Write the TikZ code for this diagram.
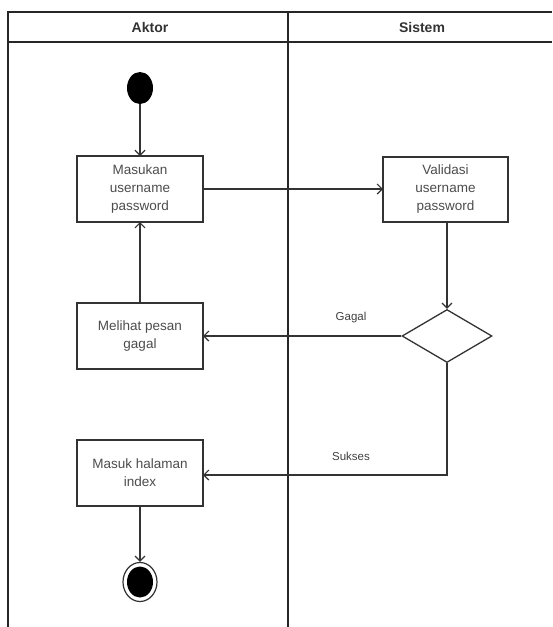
\documentclass[tikz,border=0pt]{standalone}
\usepackage{fontspec}
\setmainfont{Liberation Sans}
\usetikzlibrary{arrows.meta,calc,positioning,shapes}
\newdimen\hdim
\newdimen\wdim
\hdim=66pt
\wdim=126pt
\tikzstyle{activity}=[
  draw=black!80,
  font={\fontsize{13.5}{18}\selectfont},
  text=black!70,
  align=center,
  inner sep=0pt,
  minimum height=\hdim,
  minimum width=\wdim,
  outer sep=0pt,
  rectangle,
  line width=1.3pt,
]
\tikzstyle{decision}=[
  draw=black!80,
  diamond,
  aspect=1.7,
  inner sep=0pt,
  minimum width=90pt,
  minimum height=53pt,
  line width=1.3pt,
]
\tikzstyle{arrow}=[
  draw=black!80,
  line width=1.2pt,
]
\tikzstyle{arrowlabel}=[
  text=black!75,
  font={\fontsize{11.5}{13}\selectfont},
]
\tikzstyle{lane}=[
  draw=black!85,
  line width=1.5pt,
]
\tikzstyle{lanetitle}=[
  text=black!80,
  font={\fontsize{14}{16}\selectfont\bfseries},
]
\tikzset{
  >={Straight Barb[length=5pt,width=10pt]},
}
\begin{document}
\begin{tikzpicture}[x=1pt,y=-1pt]
      \useasboundingbox (0,0) rectangle (552,627);
      %% swimlanes
      \draw [lane] (8,627) -- (8,12) -- (552,12);
      \draw [lane] (8,42) -- (552,42);
      \draw [lane, line width=1.8pt] (288,12) -- (288,627);
      \node (aktor) [lanetitle] at (150,27) {Aktor};
      \node (sistem) [lanetitle] at (422,27) {Sistem};
      %%
      \node (start) [ellipse, fill=black, minimum width=26pt, minimum height=32pt, inner sep=0pt] at (140,88) {};
      \node (masukan) [activity] at (140,189) {Masukan\\username\\password};
      \node (validasi) [activity, minimum width=125pt, minimum height=65pt] at (445.5,189.5) {Validasi\\username\\password};
      \node (cek) [decision] at (447,336) {};
      \node (melihat) [activity] at (140,336) {Melihat pesan\\gagal};
      \node (masuk) [activity] at (140,473) {Masuk halaman\\index};
      \node (end) [ellipse, draw=black!80, line width=1.2pt, minimum width=34pt, minimum height=39pt, inner sep=0pt] at (140,582) {};
      \node (endfill) [ellipse, fill=black, minimum width=26pt, minimum height=31pt, inner sep=0pt] at (end.center) {};
      \coordinate (turn) at (cek.south|-masuk.east);
      %%
      \draw [->, arrow] (start) -- (masukan);
      \draw [->, arrow] (masukan.east) -- (masukan.east-|validasi.west);
      \draw [->, arrow] (validasi.south-|cek.north) -- (cek.north);
      \draw [->, arrow] (cek.west) -- (melihat.east);
      \node (gagal) [arrowlabel] at (351,318) {Gagal};
      \draw [->, arrow] (melihat) -- (masukan);
      \draw [->, arrow] (cek.south) -- ($(turn)+(0,2)$) -- ($(masuk.east)+(0,2)$);
      \node (sukses) [arrowlabel] at (351,456) {Sukses};
      \draw [->, arrow] (masuk) -- (end);
    \end{tikzpicture}
\end{document}
